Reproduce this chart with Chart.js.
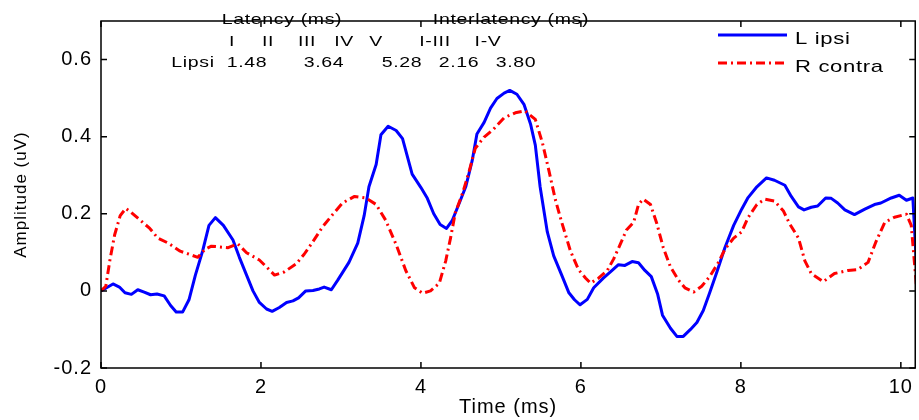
<!DOCTYPE html>
<html>
<head>
<meta charset="utf-8">
<script src="https://cdn.jsdelivr.net/npm/chart.js@4.4.0/dist/chart.umd.min.js"></script>
<style>
  html, body { margin: 0; padding: 0; background: #fff; }
  #wrap { width: 919px; height: 420px; }
</style>
</head>
<body>
<div id="wrap"><canvas id="abrChart" width="919" height="420"></canvas></div>
<script>
// L ipsi trace (time in ms, amplitude in uV)
const ipsiTime = [0, 0.15, 0.23, 0.30, 0.38, 0.46, 0.54, 0.62, 0.70, 0.79, 0.87, 0.94, 1.02, 1.10, 1.18, 1.27, 1.35, 1.43, 1.53, 1.65,
  1.73, 1.82, 1.90, 1.98, 2.07, 2.14, 2.23, 2.32, 2.40, 2.47, 2.56, 2.65, 2.73, 2.79, 2.88, 2.96, 3.10, 3.21, 3.29, 3.35,
  3.44, 3.50, 3.59, 3.69, 3.77, 3.89, 4.00, 4.08, 4.16, 4.24, 4.32, 4.39, 4.48, 4.56, 4.64, 4.70, 4.79, 4.87, 4.95, 5.04,
  5.11, 5.20, 5.29, 5.37, 5.43, 5.49, 5.58, 5.66, 5.76, 5.85, 5.92, 5.99, 6.08, 6.16, 6.28, 6.39, 6.47, 6.55, 6.64, 6.72,
  6.80, 6.88, 6.96, 7.02, 7.12, 7.20, 7.28, 7.37, 7.45, 7.53, 7.61, 7.70, 7.80, 7.91, 8.01, 8.09, 8.20, 8.32, 8.42, 8.55,
  8.63, 8.72, 8.79, 8.88, 8.96, 9.06, 9.13, 9.21, 9.30, 9.42, 9.55, 9.67, 9.75, 9.88, 9.98, 10.07, 10.15, 10.20];
const ipsiAmp = [0, 0.018, 0.010, -0.005, -0.009, 0.003, -0.003, -0.010, -0.008, -0.013, -0.038, -0.055, -0.055, -0.023, 0.041, 0.103, 0.170, 0.190, 0.170, 0.132,
  0.087, 0.041, 0.000, -0.030, -0.047, -0.053, -0.043, -0.030, -0.026, -0.018, 0.000, 0.001, 0.005, 0.010, 0.003, 0.028, 0.074, 0.124, 0.195, 0.270,
  0.328, 0.405, 0.427, 0.416, 0.395, 0.303, 0.268, 0.240, 0.200, 0.172, 0.162, 0.182, 0.228, 0.270, 0.337, 0.407, 0.437, 0.474, 0.499, 0.513,
  0.520, 0.510, 0.483, 0.433, 0.378, 0.270, 0.153, 0.091, 0.041, -0.005, -0.023, -0.036, -0.022, 0.008, 0.033, 0.053, 0.068, 0.066, 0.076, 0.073,
  0.053, 0.037, -0.009, -0.063, -0.097, -0.118, -0.118, -0.100, -0.082, -0.051, -0.005, 0.049, 0.112, 0.170, 0.212, 0.242, 0.270, 0.293, 0.287, 0.274,
  0.245, 0.218, 0.210, 0.217, 0.220, 0.241, 0.240, 0.228, 0.210, 0.198, 0.212, 0.224, 0.228, 0.241, 0.248, 0.235, 0.241, 0.050];

// R contra trace
const contraTime = [0, 0.06, 0.11, 0.17, 0.24, 0.31, 0.38, 0.47, 0.61, 0.71, 0.84, 0.99, 1.13, 1.21, 1.30, 1.38, 1.59, 1.71, 1.82, 1.98,
  2.07, 2.17, 2.29, 2.44, 2.54, 2.65, 2.77, 2.90, 3.02, 3.17, 3.31, 3.44, 3.56, 3.69, 3.81, 3.92, 4.02, 4.12, 4.23, 4.31,
  4.37, 4.43, 4.52, 4.60, 4.68, 4.79, 4.91, 5.04, 5.18, 5.30, 5.43, 5.52, 5.60, 5.68, 5.76, 5.87, 5.97, 6.06, 6.12, 6.22,
  6.33, 6.41, 6.49, 6.57, 6.66, 6.72, 6.78, 6.87, 6.95, 7.03, 7.12, 7.22, 7.30, 7.41, 7.51, 7.61, 7.72, 7.80, 7.91, 8.01,
  8.09, 8.20, 8.30, 8.42, 8.53, 8.61, 8.72, 8.80, 8.88, 9.03, 9.17, 9.34, 9.46, 9.59, 9.69, 9.80, 9.92, 10.07, 10.13, 10.20];
const contraAmp = [0, 0.012, 0.078, 0.145, 0.195, 0.214, 0.203, 0.187, 0.162, 0.137, 0.124, 0.103, 0.093, 0.087, 0.108, 0.116, 0.112, 0.122, 0.099, 0.080,
  0.062, 0.041, 0.049, 0.070, 0.095, 0.128, 0.166, 0.199, 0.228, 0.245, 0.241, 0.224, 0.183, 0.120, 0.053, 0.008, -0.006, 0.000, 0.020, 0.078,
  0.137, 0.203, 0.253, 0.308, 0.370, 0.399, 0.420, 0.449, 0.462, 0.467, 0.445, 0.383, 0.312, 0.237, 0.178, 0.103, 0.055, 0.033, 0.020, 0.033,
  0.053, 0.083, 0.120, 0.158, 0.178, 0.224, 0.238, 0.224, 0.174, 0.112, 0.062, 0.028, 0.008, -0.003, 0.012, 0.037, 0.074, 0.108, 0.137, 0.153,
  0.190, 0.224, 0.238, 0.233, 0.208, 0.174, 0.137, 0.078, 0.045, 0.024, 0.045, 0.053, 0.055, 0.074, 0.128, 0.178, 0.191, 0.199, 0.170, 0.000];

const xTicks = [0, 2, 4, 6, 8, 10];
const yTicks = [-0.2, 0, 0.2, 0.4, 0.6];

// latency table printed at the top of the plot
const waveNames = ['I', 'II', 'III', 'IV', 'V', 'I-III', 'I-V'];
const rowName = 'Lipsi';
const latencies = ['1.48', '3.64', '5.28', '2.16', '3.80'];

const FONT = '"Liberation Sans", Arial, sans-serif';

function toPoints(xs, ys) {
  return xs.map((x, i) => ({ x: x, y: ys[i] }));
}

// matlab-ish text: a bit wider than normal
function wideText(ctx, text, x, y, size, align) {
  ctx.save();
  ctx.font = size + 'px ' + FONT;
  ctx.letterSpacing = '0.5px';
  ctx.fillStyle = '#000';
  ctx.textAlign = align || 'center';
  ctx.textBaseline = 'alphabetic';
  ctx.translate(x, y);
  ctx.scale(1.3, 1);
  ctx.fillText(text, 0, 0);
  ctx.restore();
}

const spacingPlugin = {
  id: 'spacing',
  beforeDraw(chart) {
    chart.ctx.letterSpacing = '1px';
  }
};

const boxPlugin = {
  id: 'box',
  afterDraw(chart) {
    const ctx = chart.ctx;
    const { left, right, top, bottom } = chart.chartArea;
    const xs = chart.scales.x, ys = chart.scales.y;

    ctx.save();
    ctx.strokeStyle = '#000';
    ctx.lineWidth = 1.5;
    ctx.strokeRect(left, top, right - left, bottom - top);
    ctx.beginPath();
    xTicks.forEach(v => {
      const px = xs.getPixelForValue(v);
      ctx.moveTo(px, bottom); ctx.lineTo(px, bottom - 6);
      ctx.moveTo(px, top); ctx.lineTo(px, top + 6);
    });
    yTicks.forEach(v => {
      const py = ys.getPixelForValue(v);
      ctx.moveTo(left, py); ctx.lineTo(left + 6, py);
      ctx.moveTo(right, py); ctx.lineTo(right - 6, py);
    });
    ctx.stroke();
    ctx.restore();

    // latency table
    wideText(ctx, 'Latency (ms)', 282, 24, 15);
    wideText(ctx, 'Interlatency (ms)', 511, 24, 15);
    const nameX = [232, 268, 307, 344, 376, 435, 488];
    waveNames.forEach((t, i) => wideText(ctx, t, nameX[i], 46, 15));
    wideText(ctx, rowName, 193, 67, 15);
    const valX = [247, 324, 402, 459, 516];
    latencies.forEach((t, i) => wideText(ctx, t, valX[i], 67, 15));

    // legend
    const rows = [35, 63];
    chart.data.datasets.forEach((ds, i) => {
      const y = rows[i];
      ctx.save();
      ctx.strokeStyle = ds.borderColor;
      ctx.lineWidth = ds.borderWidth;
      ctx.setLineDash(ds.borderDash || []);
      ctx.beginPath();
      ctx.moveTo(718, y);
      ctx.lineTo(787, y);
      ctx.stroke();
      ctx.restore();
      wideText(ctx, ds.label, 795, y + 9, 17, 'left');
    });
  }
};

const ctx = document.getElementById('abrChart').getContext('2d');
const abrChart = new Chart(ctx, {
  type: 'line',
  data: {
    datasets: [{
      label: 'L ipsi',
      data: toPoints(ipsiTime, ipsiAmp),
      borderColor: '#0000ff',
      borderWidth: 3,
      order: 1
    }, {
      label: 'R contra',
      data: toPoints(contraTime, contraAmp),
      borderColor: '#ff0000',
      borderWidth: 3,
      borderDash: [9, 4, 2, 4],
      order: 0
    }]
  },
  options: {
    responsive: false,
    animation: false,
    parsing: true,
    elements: {
      point: { radius: 0 },
      line: { tension: 0, fill: false, borderJoinStyle: 'round' }
    },
    layout: { padding: { left: 0, right: 2, top: 8, bottom: 0 } },
    plugins: {
      legend: { display: false },
      tooltip: { enabled: false }
    },
    scales: {
      x: {
        type: 'linear',
        min: 0,
        max: 10.18,
        afterBuildTicks: s => { s.ticks = xTicks.map(v => ({ value: v })); },
        afterFit: s => { s.height = 52; },
        grid: { display: false, drawTicks: false },
        border: { display: false },
        ticks: { color: '#000', font: { size: 20, family: FONT }, padding: 7, maxRotation: 0, autoSkip: false },
        title: { display: true, text: 'Time (ms)', color: '#000', font: { size: 20, family: FONT }, padding: { top: 0, bottom: 1 } }
      },
      y: {
        min: -0.2,
        max: 0.7,
        afterBuildTicks: s => { s.ticks = yTicks.map(v => ({ value: v })); },
        afterFit: s => { s.width = 101; },
        grid: { display: false, drawTicks: false },
        border: { display: false },
        ticks: {
          color: '#000',
          font: { size: 20, family: FONT },
          padding: 9,
          callback: v => v === 0 ? '0' : v.toFixed(1)
        },
        title: { display: true, text: 'Amplitude (uV)', color: '#000', font: { size: 17, family: FONT }, padding: { top: 11, bottom: 0 } }
      }
    }
  },
  plugins: [spacingPlugin, boxPlugin]
});
</script>
</body>
</html>
